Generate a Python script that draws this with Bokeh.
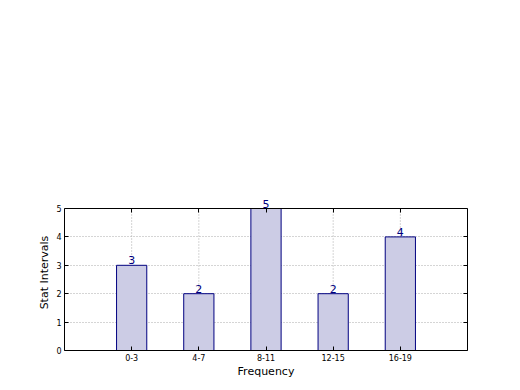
from bokeh.plotting import figure
from bokeh.models import LinearAxis, Range1d, FixedTicker, ColumnDataSource, Label, CustomJSTickFormatter
from bokeh.embed import file_html
from bokeh.resources import INLINE

categories = ["0-3", "4-7", "8-11", "12-15", "16-19"]
values = [3, 2, 5, 2, 4]
positions = [1, 2, 3, 4, 5]
y_ticks = [0, 1, 2, 3, 4, 5]

FONT = "DejaVu Sans"
Y_TOP = max(y_ticks)
FRAME_H = 156          # frame includes headroom above the axes box for the value labels
BOX_H = 142            # visible axes box height
y_end = Y_TOP * FRAME_H / BOX_H

p = figure(width=508, height=380, output_backend="svg", toolbar_location=None,
           x_range=Range1d(0, 6), y_range=Range1d(0, y_end),
           min_border_left=64, min_border_right=41, min_border_top=208 - (FRAME_H - BOX_H),
           min_border_bottom=30)
p.frame_width = 403
p.frame_height = FRAME_H
p.outline_line_color = None
p.background_fill_color = "white"
p.border_fill_color = "white"

xt = FixedTicker(ticks=positions)
yt = FixedTicker(ticks=y_ticks)

# vertical dotted grid lines, limited to the axes box
n = len(positions)
gsrc = ColumnDataSource(dict(x=positions, y0=[y_ticks[0]] * n, y1=[Y_TOP] * n))
p.segment(x0="x", y0="y0", x1="x", y1="y1", source=gsrc, line_color="#aaaaaa",
          line_dash="1 2", line_width=1, level="underlay")

src = ColumnDataSource(dict(x=positions, top=values))
p.vbar(x="x", top="top", width=0.45, bottom=0, source=src,
       fill_color="#ccccE5", line_color="navy", line_width=1)

for pos, val in zip(positions, values):
    p.add_layout(Label(x=pos, y=val, x_units="data", y_units="data", text=str(val),
                       text_align="center", text_baseline="middle", text_color="navy",
                       text_font_size="11px", text_font=FONT, y_offset=5, level="overlay"))

p.xaxis.ticker = xt
p.xaxis.major_label_overrides = {pos: c for pos, c in zip(positions, categories)}
p.yaxis.ticker = yt
p.yaxis.bounds = (y_ticks[0], Y_TOP)

for ax in (p.xaxis[0], p.yaxis[0]):
    ax.major_tick_in = 4
    ax.major_tick_out = 0
    ax.minor_tick_in = 0
    ax.minor_tick_out = 0
    ax.axis_line_color = "black"
    ax.major_tick_line_color = "black"
    ax.major_label_text_font = FONT
    ax.major_label_text_font_size = "8px"
    ax.major_label_text_color = "black"
    ax.axis_label_text_font = FONT
    ax.axis_label_text_font_size = "11px"
    ax.axis_label_text_font_style = "normal"
    ax.axis_label_text_color = "black"
    ax.major_label_standoff = 3

p.xaxis.axis_label = "Frequency"
p.yaxis.axis_label = "Stat Intervals"
p.xaxis.axis_label_standoff = 1
p.yaxis.axis_label_standoff = 2

right = LinearAxis(ticker=yt, formatter=CustomJSTickFormatter(code="return ''"),
                   bounds=(y_ticks[0], Y_TOP),
                   major_tick_in=4, major_tick_out=0,
                   minor_tick_in=0, minor_tick_out=0, axis_line_color="black",
                   major_label_standoff=0)
top = LinearAxis(ticker=xt, formatter=CustomJSTickFormatter(code="return ''"),
                 fixed_location=Y_TOP,
                 major_tick_in=4, major_tick_out=0,
                 minor_tick_in=0, minor_tick_out=0, axis_line_color="black",
                 major_label_standoff=0)
p.add_layout(right, "right")
p.add_layout(top, "above")

p.xgrid.visible = False
p.ygrid.ticker = yt
p.ygrid.grid_line_color = "#aaaaaa"
p.ygrid.grid_line_dash = "1 2"
p.ygrid.grid_line_width = 1
p.ygrid.level = "underlay"

open("out.html", "w").write(file_html(p, INLINE))
